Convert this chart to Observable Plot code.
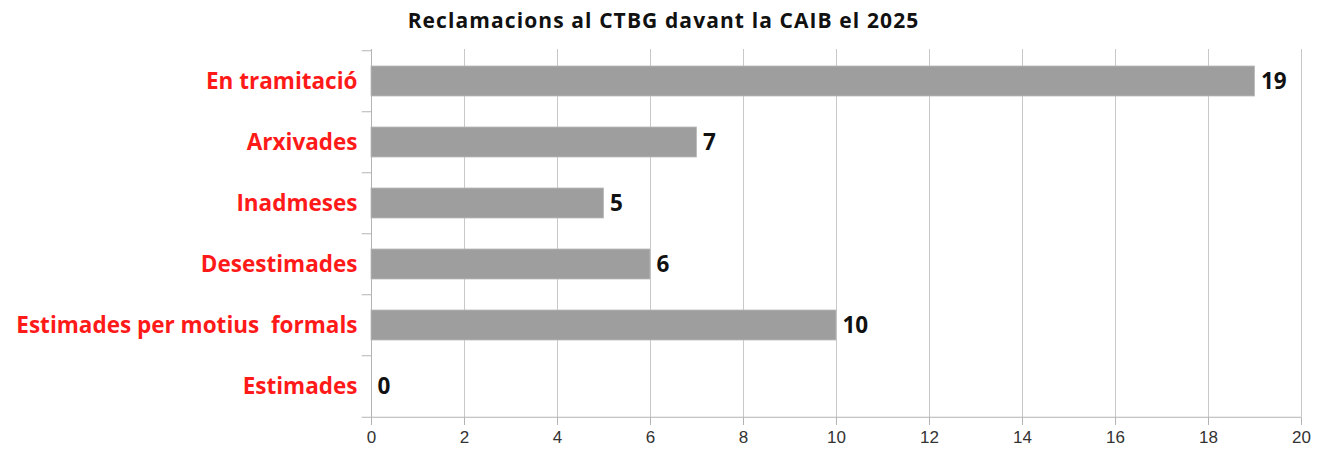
<!DOCTYPE html>
<html><head><meta charset="utf-8">
<script src="https://cdn.jsdelivr.net/npm/d3@7"></script>
<script src="https://cdn.jsdelivr.net/npm/@observablehq/plot@0.6"></script>
<style>
body{margin:0;background:#fff;}
#title{height:40px;line-height:40px;text-align:center;font-family:"Open Sans";font-weight:bold;font-size:21px;letter-spacing:1.1px;color:#111;}
</style></head>
<body>
<div id="title">Reclamacions al CTBG davant la CAIB el 2025</div>
<div id="chart"></div>
<script>
const categories = ["En tramitació","Arxivades","Inadmeses","Desestimades","Estimades per motius  formals","Estimades"];
const values = [19,7,5,6,10,0];
const xTicks = [0,2,4,6,8,10,12,14,16,18,20];

const data = categories.map((c,i)=>({cat:c, v:values[i]}));
const H = 410, mt = 9, mb = 32;
const step = (H - mt - mb) / categories.length;

const chart = Plot.plot({
  width: 1327, height: H,
  marginLeft: 371, marginRight: 26, marginTop: mt, marginBottom: mb,
  style: {fontFamily: "Open Sans", background: "#fff"},
  x: {domain: [0,20], ticks: xTicks, label: null},
  y: {domain: categories, paddingInner: 0.51, paddingOuter: 0.255, label: null},
  marks: [
    Plot.gridX(xTicks, {stroke: "#c8c8c8", strokeOpacity: 1}),
    Plot.ruleX([0], {stroke: "#b4b4b4"}),
    Plot.ruleY([categories[categories.length-1]], {y: d=>d, dy: step/2, x1: 0, x2: 20, stroke:"#b4b4b4"}),
    Plot.ruleY(categories, {y: d=>d, x1: -0.2, x2: 0, dy: -step/2, stroke: "#b4b4b4"}),
    Plot.ruleY([categories[categories.length-1]], {y: d=>d, x1: -0.2, x2: 0, dy: step/2, stroke: "#b4b4b4"}),
    Plot.barX(data, {y: "cat", x: "v", fill: "#9e9e9e", stroke: "#b8b8b8", strokeWidth: 0.8}),
    Plot.text(data, {y: "cat", x: "v", text: d => String(d.v), textAnchor: "start", dx: 6, fontWeight: "bold", fontSize: 22.5, fill: "#111", letterSpacing: "1px"}),
    Plot.axisY({tickSize: 0, tickPadding: 14, fontWeight: "bold", fontSize: 22.5, fill: "#ff1a1a", label: null}),
    Plot.axisX(xTicks, {tickSize: 7, tickPadding: 5, fontSize: 17, fontFamily: "Liberation Sans", fill: "#333", stroke: "#b4b4b4", label: null})
  ]
});
document.getElementById("chart").appendChild(chart);
</script>
</body></html>
